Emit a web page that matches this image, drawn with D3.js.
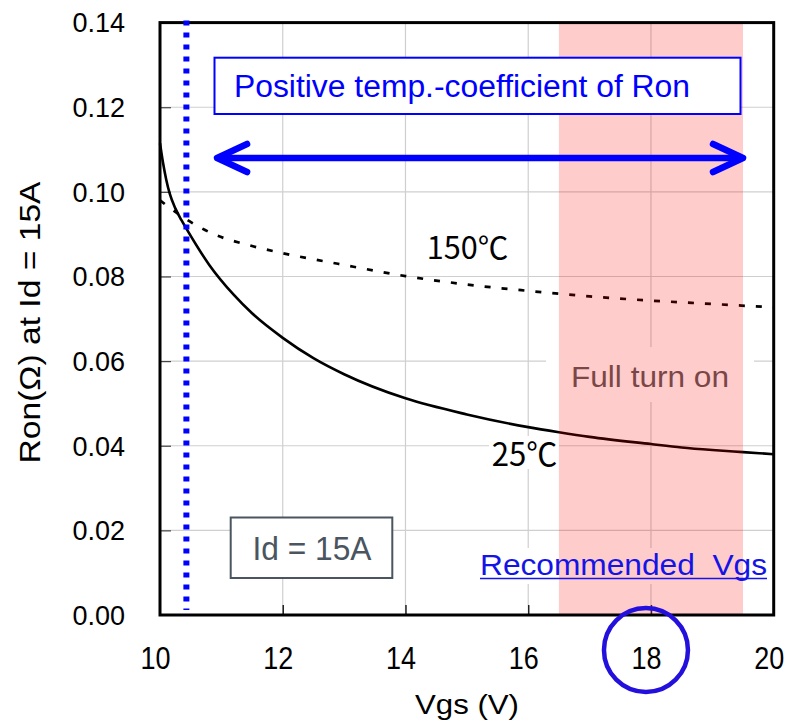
<!DOCTYPE html>
<html>
<head>
<meta charset="utf-8">
<script src="https://cdn.jsdelivr.net/npm/d3@7"></script>
<style>
  html, body { margin: 0; padding: 0; background: #fff; }
  svg text { font-family: "Liberation Sans", Arial, "Noto Sans CJK JP", sans-serif; }
  svg text.cjk { font-family: "Noto Sans CJK JP", "Liberation Sans", sans-serif; }
</style>
</head>
<body>
<svg id="chart" width="792" height="721"></svg>
<script>
// On-resistance vs gate voltage, Id = 15A
const vgs25 = [10.0, 10.05, 10.1, 10.16, 10.25, 10.35, 10.43, 10.8, 11.2, 11.5, 12.0, 12.5, 13.0, 14.0, 15.0, 16.0, 16.5, 17.0, 18.0, 18.5, 19.0, 19.5, 20.0];
const ron25 = [0.1115, 0.1068, 0.1030, 0.0995, 0.0961, 0.0933, 0.0913, 0.0828, 0.0757, 0.0713, 0.0655, 0.0607, 0.0569, 0.0512, 0.0474, 0.0444, 0.0432, 0.0421, 0.0404, 0.0396, 0.0390, 0.0385, 0.0380];
const vgs150 = [10.0, 10.2, 10.43, 10.83, 11.5, 12.0, 12.9, 14.0, 15.0, 16.0, 17.0, 18.0, 19.0, 20.0];
const ron150 = [0.0980, 0.0958, 0.0935, 0.0903, 0.0872, 0.0855, 0.0830, 0.0801, 0.0781, 0.0766, 0.0753, 0.0743, 0.0735, 0.0727];

const xTicks = [10, 12, 14, 16, 18, 20];
const yTicks = [0.00, 0.02, 0.04, 0.06, 0.08, 0.10, 0.12, 0.14];

const fullTurnOnBand = [16.5, 19.5];
const crossoverVgs = 10.43;
const arrowSpan = [10.93, 19.5];
const arrowLevel = 0.108;
const recommendedVgs = 18;

const svg = d3.select("#chart");
const x = d3.scaleLinear().domain([10, 20]).range([160, 773.7]);
const y = d3.scaleLinear().domain([0, 0.14]).range([615, 22.6]);

// grid
const grid = svg.append("g");
grid.selectAll(".gx").data(xTicks.slice(1, -1)).join("line")
  .attr("x1", d => x(d)).attr("x2", d => x(d))
  .attr("y1", y(0.14)).attr("y2", y(0))
  .attr("stroke", "#cfcfcf").attr("stroke-width", 1.2);
grid.selectAll(".gy").data(yTicks.slice(1, -1)).join("line")
  .attr("x1", x(10)).attr("x2", x(20))
  .attr("y1", d => y(d)).attr("y2", d => y(d))
  .attr("stroke", "#cfcfcf").attr("stroke-width", 1.2);

// inner ticks
svg.append("g").attr("transform", `translate(${x(10)},0)`)
  .call(d3.axisRight(y).tickValues(yTicks.slice(1, -1)).tickSize(11).tickFormat(""))
  .call(g => g.select(".domain").remove())
  .call(g => g.selectAll("line").attr("stroke", "#444").attr("stroke-width", 1.2));
svg.append("g").attr("transform", `translate(0,${y(0)})`)
  .call(d3.axisTop(x).tickValues(xTicks.slice(1, -1)).tickSize(10).tickFormat(""))
  .call(g => g.select(".domain").remove())
  .call(g => g.selectAll("line").attr("stroke", "#222").attr("stroke-width", 1.5));

// label backgrounds
svg.append("rect").attr("x", 546).attr("y", 347).attr("width", 208).attr("height", 55).attr("fill", "#fff");
svg.append("rect").attr("x", 489).attr("y", 436).attr("width", 70).attr("height", 33).attr("fill", "#fff");
svg.append("rect").attr("x", 477).attr("y", 548).attr("width", 294).attr("height", 36).attr("fill", "#fff");

// curves
const line = d3.line().x(d => x(d[0])).y(d => y(d[1])).curve(d3.curveMonotoneX);
svg.append("path").datum(d3.zip(vgs25, ron25)).attr("d", line)
  .attr("fill", "none").attr("stroke", "#000").attr("stroke-width", 2.6);
svg.append("path").datum(d3.zip(vgs150, ron150)).attr("d", line)
  .attr("fill", "none").attr("stroke", "#000").attr("stroke-width", 2.7)
  .attr("stroke-dasharray", "6 11");

svg.append("text").attr("class", "cjk").attr("x", 426.7).attr("y", 259.3).attr("font-size", 31)
  .attr("textLength", 81.6).attr("lengthAdjust", "spacingAndGlyphs").text("150℃");
svg.append("text").attr("class", "cjk").attr("x", 491.7).attr("y", 465.7).attr("font-size", 32)
  .attr("textLength", 65.6).attr("lengthAdjust", "spacingAndGlyphs").text("25℃");

svg.append("text").attr("x", 650).attr("y", 386.7).attr("font-size", 30)
  .attr("text-anchor", "middle").attr("fill", "#595959")
  .attr("textLength", 158).attr("lengthAdjust", "spacingAndGlyphs").text("Full turn on");

// full turn-on band (translucent, over the curves)
svg.append("rect")
  .attr("x", x(fullTurnOnBand[0])).attr("width", x(fullTurnOnBand[1]) - x(fullTurnOnBand[0]))
  .attr("y", y(0.14)).attr("height", y(0) - y(0.14))
  .attr("fill", "rgba(255,0,0,0.2)");

// plot frame
svg.append("rect").attr("x", x(10)).attr("y", y(0.14))
  .attr("width", x(20) - x(10)).attr("height", y(0) - y(0.14))
  .attr("fill", "none").attr("stroke", "#000").attr("stroke-width", 3);

// tick labels
svg.selectAll(".ylab").data(yTicks).join("text")
  .attr("x", 125).attr("y", d => y(d) + 9.8)
  .attr("text-anchor", "end").attr("font-size", 27)
  .text(d => d3.format(".2f")(d));
svg.selectAll(".xlab").data(xTicks).join("text")
  .attr("x", d => x(d) - 4.5).attr("y", 669.3)
  .attr("text-anchor", "middle").attr("font-size", 31)
  .attr("textLength", 30).attr("lengthAdjust", "spacingAndGlyphs")
  .text(d => d);

// axis titles
svg.append("text").attr("transform", "translate(40,322.5) rotate(-90)")
  .attr("text-anchor", "middle").attr("font-size", 29)
  .attr("textLength", 282).attr("lengthAdjust", "spacingAndGlyphs")
  .text("Ron(Ω) at Id = 15A");
svg.append("text").attr("x", 467).attr("y", 713.5)
  .attr("text-anchor", "middle").attr("font-size", 28)
  .attr("textLength", 104).attr("lengthAdjust", "spacingAndGlyphs")
  .text("Vgs (V)");

// crossover marker
svg.append("line").attr("x1", x(crossoverVgs)).attr("x2", x(crossoverVgs))
  .attr("y1", y(0.14) - 2).attr("y2", 610)
  .attr("stroke", "#0000ff").attr("stroke-width", 6).attr("stroke-dasharray", "5 7");

// positive coefficient note
svg.append("rect").attr("x", 214.5).attr("y", 57.7).attr("width", 526).attr("height", 56.3)
  .attr("fill", "#fff").attr("stroke", "#0000ff").attr("stroke-width", 2);
svg.append("text").attr("x", 234).attr("y", 96.7).attr("font-size", 31).attr("fill", "#0000ff")
  .attr("textLength", 456).attr("lengthAdjust", "spacingAndGlyphs")
  .text("Positive temp.-coefficient of Ron");

// double-headed arrow
const ax0 = x(arrowSpan[0]), ax1 = x(arrowSpan[1]), ay = y(arrowLevel);
const arrow = svg.append("g").attr("stroke", "#0000ff").attr("stroke-width", 6.5)
  .attr("stroke-linecap", "round").attr("stroke-linejoin", "round").attr("fill", "none");
arrow.append("line").attr("x1", ax0 + 3).attr("x2", ax1 - 3).attr("y1", ay).attr("y2", ay);
arrow.append("path").attr("d", `M${ax0 + 30},${ay - 14} L${ax0},${ay} L${ax0 + 30},${ay + 14}`);
arrow.append("path").attr("d", `M${ax1 - 30},${ay - 14} L${ax1},${ay} L${ax1 - 30},${ay + 14}`);

// test condition box
svg.append("rect").attr("x", 230.7).attr("y", 517.5).attr("width", 161.6).attr("height", 60.5)
  .attr("fill", "#fff").attr("stroke", "#4a5560").attr("stroke-width", 2);
svg.append("text").attr("x", 312).attr("y", 560).attr("font-size", 34)
  .attr("text-anchor", "middle").attr("fill", "#4a5560")
  .attr("textLength", 119).attr("lengthAdjust", "spacingAndGlyphs")
  .text("Id = 15A");

// recommended gate voltage
svg.append("text").attr("x", 480).attr("y", 575).attr("font-size", 29)
  .attr("fill", "#1414e6").attr("textLength", 287).attr("lengthAdjust", "spacingAndGlyphs")
  .attr("xml:space", "preserve").style("white-space", "pre")
  .text("Recommended  Vgs");
svg.append("line").attr("x1", 480).attr("x2", 767).attr("y1", 578.5).attr("y2", 578.5)
  .attr("stroke", "#1414e6").attr("stroke-width", 1.6);
svg.append("circle").attr("cx", x(recommendedVgs) - 5).attr("cy", 650).attr("r", 42)
  .attr("fill", "none").attr("stroke", "#2410dc").attr("stroke-width", 4.5);
</script>
</body>
</html>
